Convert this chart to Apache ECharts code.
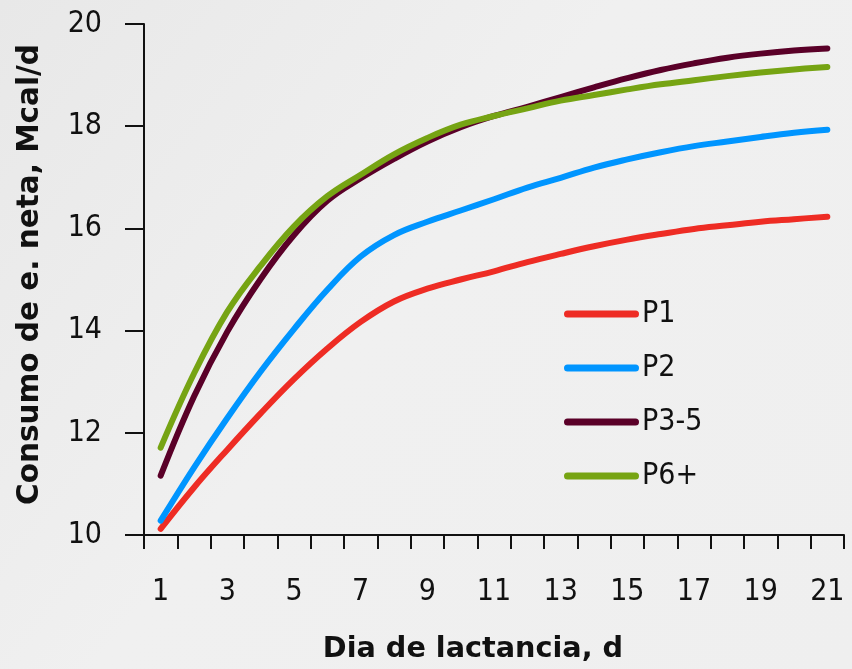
<!DOCTYPE html>
<html>
<head>
<meta charset="utf-8">
<script src="https://cdn.jsdelivr.net/npm/echarts@6/dist/echarts.min.js"></script>
<style>
html,body{margin:0;padding:0;background:#eeeeee;}
#chart{width:852px;height:669px;}
</style>
</head>
<body>
<div id="chart"></div>
<script>
const days = ['1','2','3','4','5','6','7','8','9','10','11','12','13','14','15','16','17','18','19','20','21'];
const p1  = [10.12,10.93,11.67,12.38,13.05,13.65,14.17,14.57,14.82,15.00,15.16,15.34,15.50,15.65,15.78,15.89,15.99,16.06,16.13,16.18,16.23];
const p2  = [10.28,11.32,12.29,13.20,14.03,14.80,15.45,15.87,16.13,16.35,16.57,16.80,16.99,17.19,17.35,17.49,17.61,17.70,17.79,17.87,17.93];
const p35 = [11.16,12.71,13.98,15.01,15.87,16.54,16.98,17.36,17.70,17.98,18.20,18.38,18.57,18.76,18.94,19.10,19.23,19.34,19.42,19.48,19.52];
const p6  = [11.71,13.16,14.37,15.27,16.04,16.63,17.05,17.45,17.77,18.03,18.20,18.35,18.50,18.61,18.72,18.82,18.90,18.98,19.05,19.11,19.16];
const seriesNames = ['P1','P2','P3-5','P6+'];
const seriesColors = ['#ee2c24','#0095ff','#5a0028','#76a413'];
const yTicks = [10,20,2];

const FONT = 'DejaVu Sans';
const FONT_C = '"DejaVu Sans Condensed", "DejaVu Sans"';
const chart = echarts.init(document.getElementById('chart'), null, {renderer:'canvas'});
const data = [p1,p2,p35,p6];
chart.setOption({
  backgroundColor: {
    type:'linear', x:0, y:0, x2:1, y2:1,
    colorStops:[{offset:0,color:'#e8e8e8'},{offset:0.45,color:'#f0f0f0'},{offset:1,color:'#efefef'}]
  },
  animation:false,
  grid:{left:144, right:8, top:24, bottom:131},
  legend:{
    orient:'vertical', left:559, top:294,
    icon:'path://M3.5,0L71.5,0A3.5,3.5,0,0,1,71.5,7L3.5,7A3.5,3.5,0,0,1,3.5,0Z',
    itemWidth:75, itemHeight:7, itemGap:24,
    textStyle:{fontFamily:FONT_C, fontSize:30, color:'#111', padding:[0,0,0,-2]},
    data: seriesNames
  },
  xAxis:{
    type:'category', data:days, boundaryGap:true,
    name:'Dia de lactancia, d', nameLocation:'middle', nameGap:100,
    nameTextStyle:{fontFamily:FONT, fontSize:28.7, fontWeight:'bold', color:'#111', padding:[0,42,0,0]},
    axisLine:{show:true, lineStyle:{color:'#111', width:2}},
    axisTick:{show:true, interval:0, length:14, lineStyle:{color:'#111', width:2}},
    axisLabel:{interval:1, margin:42, fontFamily:FONT_C, fontSize:30, color:'#111'},
    splitLine:{show:false}
  },
  yAxis:{
    type:'value', min:yTicks[0], max:yTicks[1], interval:yTicks[2],
    name:'Consumo de e. neta, Mcal/d', nameLocation:'middle', nameGap:99,
    nameTextStyle:{fontFamily:FONT, fontSize:29.5, fontWeight:'bold', color:'#111', padding:[0,0,0,10]},
    axisLine:{show:true, lineStyle:{color:'#111', width:2}},
    axisTick:{show:true, length:19, lineStyle:{color:'#111', width:2}},
    axisLabel:{margin:42, fontFamily:FONT_C, fontSize:30, color:'#111'},
    splitLine:{show:false}
  },
  series: seriesNames.map((n,i)=>({
    name:n, type:'line', data:data[i], smooth:0.4, symbol:'none',
    color:seriesColors[i],
    lineStyle:{color:seriesColors[i], width:6, cap:'round', join:'round'}
  }))
});
</script>
</body>
</html>
